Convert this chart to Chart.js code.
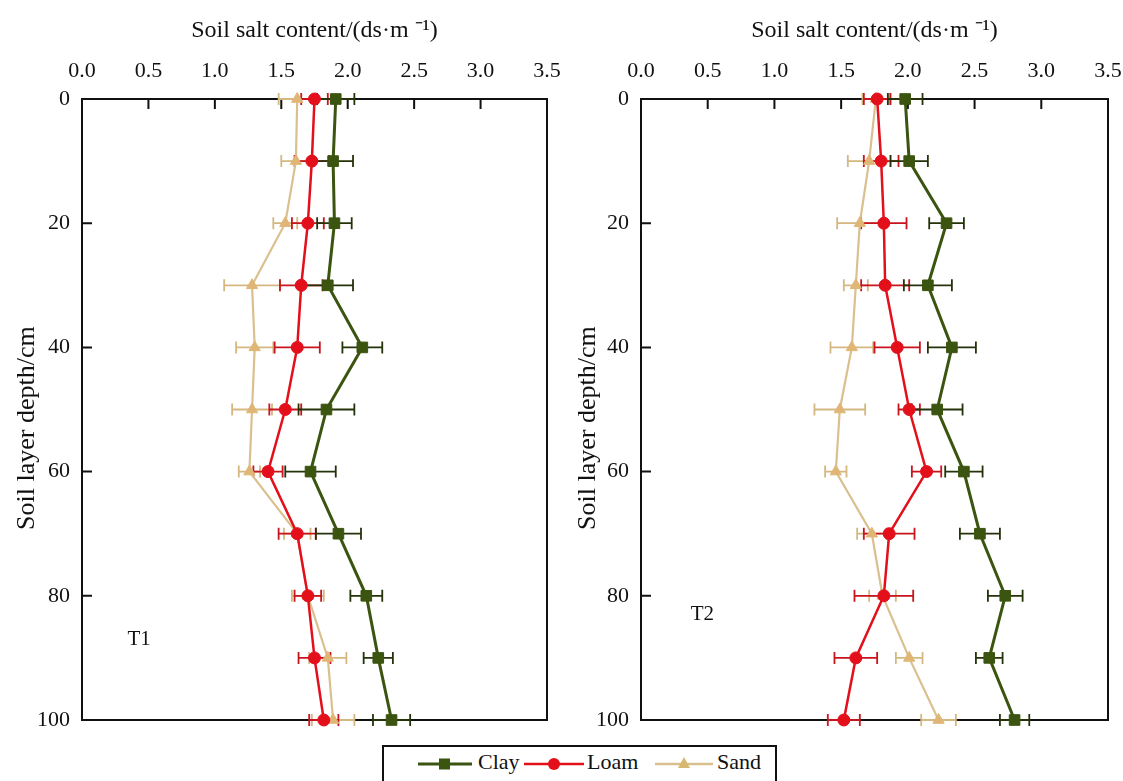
<!DOCTYPE html>
<html>
<head>
<meta charset="utf-8">
<title>Soil salt content by depth</title>
<script src="https://cdn.jsdelivr.net/npm/chart.js@4.4.1/dist/chart.umd.min.js"></script>
<style>
  html, body { margin: 0; padding: 0; background: #fff; }
  body { width: 1123px; height: 781px; position: relative; overflow: hidden; font-family: 'Liberation Serif', serif; }
  canvas { position: absolute; top: 0; }
  #left { left: 0; }
  #right { left: 560px; }
  #legend {
    position: absolute; left: 382px; top: 745px; width: 395px; height: 50px;
    box-sizing: border-box; border: 2px solid #111; background: #fff;
  }
  #legend svg, #legend span { position: absolute; }
  #legend span { font-size: 22px; color: #111; top: 2px; line-height: 26px; }
</style>
</head>
<body>
<canvas id="left" width="560" height="740"></canvas>
<canvas id="right" width="563" height="740"></canvas>
<div id="legend">
  <svg style="left:34px;top:6px" width="54" height="22">
    <line x1="0" y1="11" x2="54" y2="11" stroke="#3b5410" stroke-width="3"/>
    <rect x="21" y="5.5" width="11" height="11" fill="#3b5410"/>
  </svg>
  <span style="left:94px">Clay</span>
  <svg style="left:140px;top:6px" width="60" height="22">
    <line x1="0" y1="11" x2="60" y2="11" stroke="#e3101c" stroke-width="2.5"/>
    <circle cx="30" cy="11" r="6" fill="#e3101c"/>
  </svg>
  <span style="left:203px">Loam</span>
  <svg style="left:271px;top:6px" width="58" height="22">
    <line x1="0" y1="11" x2="58" y2="11" stroke="#d9c08e" stroke-width="2.5"/>
    <polygon points="29,4 35,15 23,15" fill="#d6b870"/>
  </svg>
  <span style="left:333px">Sand</span>
</div>
<script>
// depth of each sampled layer (cm)
const depths = [0, 10, 20, 30, 40, 50, 60, 70, 80, 90, 100];
const xTicks = [0, 0.5, 1.0, 1.5, 2.0, 2.5, 3.0, 3.5];
const seriesNames = ['Clay', 'Loam', 'Sand'];

// T1 salt content (ds/m) and error
const clayT1 = [1.91, 1.89, 1.90, 1.85, 2.11, 1.84, 1.72, 1.93, 2.14, 2.23, 2.33];
const clayT1Err = [0.14, 0.15, 0.13, 0.19, 0.15, 0.21, 0.19, 0.17, 0.12, 0.11, 0.14];
const loamT1 = [1.75, 1.73, 1.70, 1.65, 1.62, 1.53, 1.40, 1.62, 1.70, 1.75, 1.82];
const loamT1Err = [0.10, 0.13, 0.12, 0.16, 0.17, 0.12, 0.11, 0.14, 0.10, 0.12, 0.11];
const sandT1 = [1.62, 1.61, 1.53, 1.28, 1.30, 1.28, 1.26, 1.62, 1.70, 1.85, 1.89];
const sandT1Err = [0.14, 0.11, 0.09, 0.21, 0.14, 0.15, 0.08, 0.10, 0.12, 0.14, 0.16];

// T2 salt content (ds/m) and error
const clayT2 = [1.98, 2.01, 2.29, 2.15, 2.33, 2.22, 2.42, 2.54, 2.73, 2.61, 2.80];
const clayT2Err = [0.13, 0.14, 0.13, 0.18, 0.18, 0.19, 0.14, 0.15, 0.13, 0.10, 0.11];
const loamT2 = [1.77, 1.80, 1.82, 1.83, 1.92, 2.01, 2.14, 1.86, 1.82, 1.61, 1.52];
const loamT2Err = [0.10, 0.13, 0.17, 0.18, 0.17, 0.08, 0.11, 0.19, 0.22, 0.16, 0.12];
const sandT2 = [1.76, 1.71, 1.64, 1.61, 1.58, 1.49, 1.46, 1.73, 1.81, 2.01, 2.23];
const sandT2Err = [0.10, 0.16, 0.17, 0.09, 0.16, 0.19, 0.08, 0.11, 0.10, 0.10, 0.13];

Chart.defaults.font.family = "'Liberation Serif', 'Times New Roman', serif";
Chart.defaults.color = '#111';

const styles = {
  Clay: { color: '#3b5410', errColor: '#25330a', point: 'rect', radius: 7.5, width: 3 },
  Loam: { color: '#e3101c', errColor: '#c8141c', point: 'circle', radius: 6, width: 2.5 },
  Sand: { color: '#d9c08e', errColor: '#d4b880', point: 'triangle', radius: 6.5, width: 2.2, fill: '#e0b676' }
};

// frame, inward tick marks, depth title, error bars and panel label
const panelPlugin = {
  id: 'panel',
  beforeDatasetsDraw(chart) {
    const ctx = chart.ctx;
    const a = chart.chartArea;
    const xs = chart.scales.x, ys = chart.scales.y;
    const opts = chart.options.plugins.panel;
    ctx.save();
    ctx.strokeStyle = '#111';
    ctx.lineWidth = 2;
    ctx.strokeRect(a.left, a.top, a.right - a.left, a.bottom - a.top);
    ctx.beginPath();
    xs.ticks.forEach(t => {
      const px = xs.getPixelForValue(t.value);
      ctx.moveTo(px, a.top);
      ctx.lineTo(px, a.top + 10);
    });
    ys.ticks.forEach(t => {
      const py = ys.getPixelForValue(t.value);
      ctx.moveTo(a.left, py);
      ctx.lineTo(a.left + 10, py);
    });
    ctx.stroke();

    ctx.fillStyle = '#111';
    ctx.textAlign = 'center';
    ctx.textBaseline = 'middle';

    // depth axis title
    ctx.save();
    ctx.font = "26px 'Liberation Serif', serif";
    ctx.translate(a.left - opts.titleGap, ys.getPixelForValue(53));
    ctx.rotate(-Math.PI / 2);
    ctx.fillText('Soil layer depth/cm', 0, 0);
    ctx.restore();

    ctx.font = "21px 'Liberation Serif', serif";
    ctx.fillText(opts.text, xs.getPixelForValue(opts.x), ys.getPixelForValue(opts.y));

    for (let i = chart.data.datasets.length - 1; i >= 0; i--) {
      const ds = chart.data.datasets[i];
      ctx.strokeStyle = ds.errColor;
      ctx.lineWidth = 1.8;
      ctx.beginPath();
      ds.data.forEach((p, j) => {
        const e = ds.errors[j];
        const x1 = xs.getPixelForValue(p.x - e);
        const x2 = xs.getPixelForValue(p.x + e);
        const y = ys.getPixelForValue(p.y);
        ctx.moveTo(x1, y); ctx.lineTo(x2, y);
        ctx.moveTo(x1, y - 6); ctx.lineTo(x1, y + 6);
        ctx.moveTo(x2, y - 6); ctx.lineTo(x2, y + 6);
      });
      ctx.stroke();
    }
    ctx.restore();
  }
};

function makeDataset(name, values, errors) {
  const s = styles[name];
  return {
    label: name,
    data: values.map((v, i) => ({ x: v, y: depths[i] })),
    errors: errors,
    errColor: s.errColor,
    showLine: true,
    borderColor: s.color,
    borderWidth: s.width,
    backgroundColor: s.fill || s.color,
    pointBackgroundColor: s.fill || s.color,
    pointBorderColor: s.fill || s.color,
    pointBorderWidth: 1,
    pointStyle: s.point,
    pointRadius: s.radius,
    tension: 0,
    clip: false
  };
}

function makeChart(id, sets, panel, opts) {
  return new Chart(document.getElementById(id), {
    type: 'scatter',
    data: {
      datasets: [
        makeDataset(seriesNames[0], sets[0], sets[1]),
        makeDataset(seriesNames[1], sets[2], sets[3]),
        makeDataset(seriesNames[2], sets[4], sets[5])
      ]
    },
    options: {
      responsive: false,
      animation: false,
      events: [],
      layout: { padding: { left: 0, right: opts.padRight, top: 0, bottom: 20 } },
      plugins: {
        legend: { display: false },
        tooltip: { enabled: false },
        panel: panel
      },
      scales: {
        x: {
          type: 'linear',
          position: 'top',
          min: xTicks[0],
          max: xTicks[xTicks.length - 1],
          afterBuildTicks: scale => { scale.ticks = xTicks.map(v => ({ value: v })); },
          afterFit: scale => {
            scale.height = 99;
            scale.paddingLeft = 0;
            scale.paddingRight = 0;
          },
          grid: { display: false, drawTicks: false },
          border: { display: false },
          ticks: { font: { size: 22 }, padding: 15, callback: v => v.toFixed(1), maxRotation: 0 },
          title: { display: true, text: 'Soil salt content/(ds\u00B7m \u207B\u00B9)', font: { size: 24 }, padding: { top: 16 } }
        },
        y: {
          type: 'linear',
          reverse: true,
          min: 0,
          max: 100,
          afterFit: scale => {
            scale.width = opts.yWidth;
            scale.paddingTop = 0;
            scale.paddingBottom = 0;
          },
          grid: { display: false, drawTicks: false },
          border: { display: false },
          ticks: { stepSize: 20, font: { size: 22 }, padding: 12 }
        }
      }
    },
    plugins: [panelPlugin]
  });
}

makeChart('left', [clayT1, clayT1Err, loamT1, loamT1Err, sandT1, sandT1Err],
  { text: 'T1', x: 0.43, y: 87, titleGap: 55 }, { padRight: 13, yWidth: 82 });
makeChart('right', [clayT2, clayT2Err, loamT2, loamT2Err, sandT2, sandT2Err],
  { text: 'T2', x: 0.46, y: 83, titleGap: 53 }, { padRight: 15, yWidth: 81 });
</script>
</body>
</html>
